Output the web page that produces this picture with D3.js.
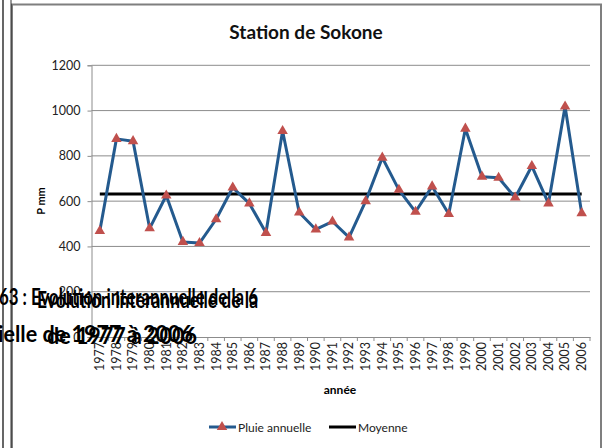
<!DOCTYPE html>
<html>
<head>
<meta charset="utf-8">
<script src="https://cdn.jsdelivr.net/npm/d3@7"></script>
<style>
  body { margin: 0; background: #fff; }
  svg { display: block; font-family: Lato, "Open Sans", sans-serif; }
</style>
</head>
<body>
<svg id="chart"></svg>
<script>
var width = 603;
var height = 448;

var years = ['1977','1978','1979','1980','1981','1982','1983','1984','1985','1986',
             '1987','1988','1989','1990','1991','1992','1993','1994','1995','1996',
             '1997','1998','1999','2000','2001','2002','2003','2004','2005','2006'];
var pluie = [468, 875, 865, 480, 625, 420, 415, 520, 660, 590,
             460, 910, 550, 475, 510, 440, 600, 792, 650, 553,
             665, 543, 920, 708, 703, 616, 755, 590, 1018, 547];
var moyenne = [632, 632, 632, 632, 632, 632, 632, 632, 632, 632,
               632, 632, 632, 632, 632, 632, 632, 632, 632, 632,
               632, 632, 632, 632, 632, 632, 632, 632, 632, 632];
var yTicks = [0, 200, 400, 600, 800, 1000, 1200];

var plot = { left: 91.5, right: 590, top: 65.3, bottom: 337 };

var svg = d3.select('#chart')
  .attr('width', width)
  .attr('height', height);

// page / chart frame
svg.append('line')
  .attr('x1', 3).attr('x2', 3).attr('y1', 0).attr('y2', height)
  .attr('stroke', '#000').attr('stroke-width', 1.2);
svg.append('rect')
  .attr('x', 12).attr('y', 4.5)
  .attr('width', 589).attr('height', 460)
  .attr('fill', 'none').attr('stroke', '#7f7f7f').attr('stroke-width', 2);
svg.append('line')
  .attr('x1', 11).attr('x2', 11).attr('y1', 0).attr('y2', height)
  .attr('stroke', '#000').attr('stroke-width', 0.8);

var x = d3.scaleBand()
  .domain(years)
  .range([plot.left, plot.right]);

var y = d3.scaleLinear()
  .domain([0, 1200])
  .range([plot.bottom, plot.top]);

// gridlines
svg.append('g')
  .selectAll('line')
  .data(yTicks.filter(function(d) { return d > 0; }))
  .enter().append('line')
    .attr('x1', plot.left).attr('x2', plot.right)
    .attr('y1', function(d) { return y(d); })
    .attr('y2', function(d) { return y(d); })
    .attr('stroke', '#8c8c8c').attr('stroke-width', 1);

// y axis
var yAxis = svg.append('g')
  .attr('transform', 'translate(' + plot.left + ',0)')
  .call(d3.axisLeft(y).tickValues(yTicks).tickFormat(d3.format('d')).tickSize(4).tickPadding(7));
yAxis.select('.domain').attr('stroke', '#8c8c8c');
yAxis.selectAll('.tick line').attr('stroke', '#8c8c8c');
yAxis.selectAll('text').attr('font-size', 12.5).attr('fill', '#222')
  .attr('font-family', 'Lato, sans-serif');

// x axis
var xAxis = svg.append('g')
  .attr('transform', 'translate(0,' + plot.bottom + ')')
  .call(d3.axisBottom(x).tickSize(0).tickPadding(0));
xAxis.select('.domain').attr('stroke', '#8c8c8c');
xAxis.selectAll('text')
  .attr('font-size', 12.5).attr('fill', '#222')
  .attr('font-family', 'Lato, sans-serif')
  .attr('text-anchor', 'end')
  .attr('dy', '0.35em')
  .attr('transform', 'translate(0,5) rotate(-90)')
  .attr('x', 0).attr('y', 0);
// boundary ticks between categories
svg.append('g')
  .selectAll('line')
  .data(years)
  .enter().append('line')
    .attr('x1', function(d) { return x(d) + x.bandwidth(); })
    .attr('x2', function(d) { return x(d) + x.bandwidth(); })
    .attr('y1', plot.bottom).attr('y2', plot.bottom + 4)
    .attr('stroke', '#8c8c8c');

var cx = function(d, i) { return x(years[i]) + x.bandwidth() / 2; };

// Moyenne
svg.append('path')
  .datum(moyenne)
  .attr('fill', 'none')
  .attr('stroke', '#000')
  .attr('stroke-width', 3)
  .attr('d', d3.line().x(cx).y(function(d) { return y(d); }));

// Pluie annuelle
svg.append('path')
  .datum(pluie)
  .attr('fill', 'none')
  .attr('stroke', '#245a8e')
  .attr('stroke-width', 3)
  .attr('stroke-linejoin', 'round')
  .attr('d', d3.line().x(cx).y(function(d) { return y(d); }));

var tri = d3.symbol().type(d3.symbolTriangle).size(48);
svg.append('g')
  .selectAll('path')
  .data(pluie)
  .enter().append('path')
    .attr('d', tri)
    .attr('fill', '#c0504d')
    .attr('transform', function(d, i) { return 'translate(' + cx(d, i) + ',' + y(d) + ')'; });

// title
svg.append('text')
  .attr('x', 306).attr('y', 39)
  .attr('text-anchor', 'middle')
  .attr('font-size', 19).attr('font-weight', 'bold')
  .attr('fill', '#111')
  .text('Station de Sokone');

// axis titles
svg.append('text')
  .attr('transform', 'translate(45,201) rotate(-90)')
  .attr('text-anchor', 'middle')
  .attr('font-size', 11).attr('font-weight', 'bold')
  .text('P mm');
svg.append('text')
  .attr('x', 340).attr('y', 394)
  .attr('text-anchor', 'middle')
  .attr('font-size', 12).attr('font-weight', 'bold')
  .text('année');

// legend
var lg = svg.append('g').attr('transform', 'translate(0,427)');
lg.append('line').attr('x1', 209).attr('x2', 236).attr('y1', 0).attr('y2', 0)
  .attr('stroke', '#245a8e').attr('stroke-width', 3);
lg.append('path').attr('d', tri).attr('fill', '#c0504d')
  .attr('transform', 'translate(222,0)');
lg.append('text').attr('x', 238).attr('y', 4.5)
  .attr('font-size', 12).attr('fill', '#222').text('Pluie annuelle');
lg.append('line').attr('x1', 329).attr('x2', 356).attr('y1', 0).attr('y2', 0)
  .attr('stroke', '#000').attr('stroke-width', 3);
lg.append('text').attr('x', 358).attr('y', 4.5)
  .attr('font-size', 12).attr('fill', '#222').text('Moyenne');

// overlapping caption text from the source document
var cap = svg.append('g')
  .attr('font-size', 23).attr('font-weight', 'bold').attr('fill', '#000')
  .attr('font-family', 'Lato, sans-serif');
cap.append('text').attr('x', -1).attr('y', 305)
  .attr('textLength', 259).attr('lengthAdjust', 'spacingAndGlyphs')
  .text('63 : Evolution interannuelle de la 6');
cap.append('text').attr('x', 37).attr('y', 308)
  .attr('textLength', 221).attr('lengthAdjust', 'spacingAndGlyphs')
  .text('Evolution interannuelle de la');
cap.append('text').attr('x', 193).attr('y', 342).attr('text-anchor', 'end')
  .attr('textLength', 195).attr('lengthAdjust', 'spacingAndGlyphs')
  .text('ielle de 1977 à 2006');
cap.append('text').attr('x', 197).attr('y', 344).attr('text-anchor', 'end')
  .attr('textLength', 150).attr('lengthAdjust', 'spacingAndGlyphs')
  .text('de 1977 à 2006');
</script>
</body>
</html>
